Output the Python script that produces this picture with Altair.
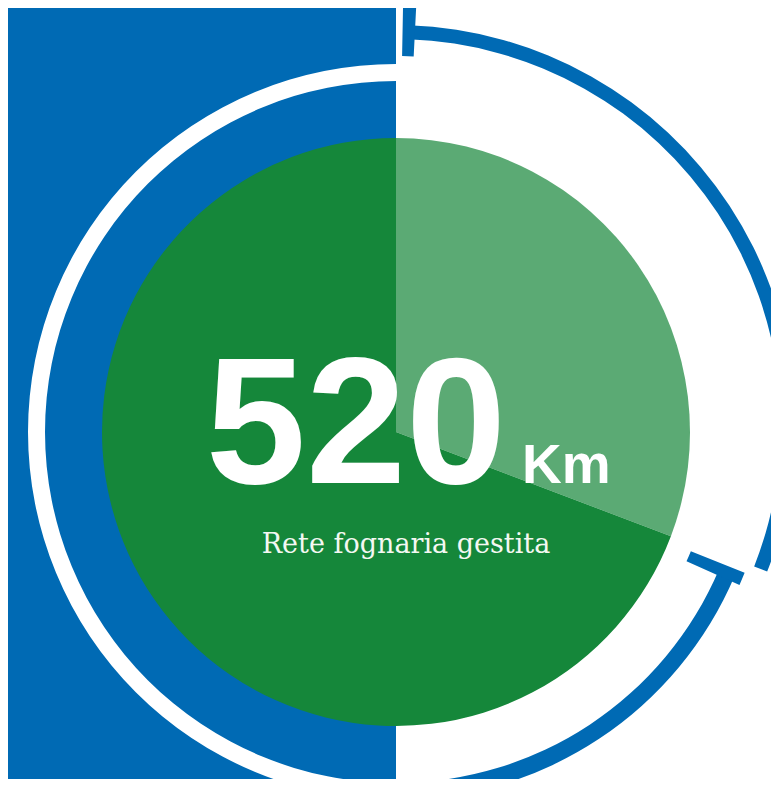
import altair as alt
import pandas as pd

# ---- data ----
segments = ["Quota evidenziata", "Resto della rete"]
km_values = [160, 360]
headline = ["520"]
unit = ["Km"]
caption = ["Rete fognaria gestita"]

# decorative arc spans (degrees, clockwise from top)
ring_white_span = [180, 360]
ring_blue_span = [113, 180]
ring_cap_span = [112, 114]
outer_arc_span = [2, 111.5]
outer_cap_span = [1.1, 2.9]

BLUE = "#006AB4"
GREEN_DARK = "#15873A"
GREEN_LIGHT = "#5BAA74"

W, H = 763, 771
CX, CY = 388, 424      # centre of pie and ring
OCX, OCY = 387, 417    # centre of outer arc

deg_scale = alt.Scale(domain=[0, 360])


def arc_layer(span, r_in, r_out, color, cx, cy):
    df = pd.DataFrame({"t0": [span[0]], "t1": [span[1]]})
    return alt.Chart(df).mark_arc(radius=r_out, radius2=r_in, color=color).encode(
        theta=alt.Theta("t0:Q", scale=deg_scale),
        theta2="t1:Q",
        x=alt.value(cx),
        y=alt.value(cy),
    )


bg = alt.Chart(pd.DataFrame({"a": [0]})).mark_rect(color=BLUE).encode(
    x=alt.value(0), x2=alt.value(CX), y=alt.value(0), y2=alt.value(H)
)

ring_white = arc_layer(ring_white_span, 351, 368, "white", CX, CY)
ring_blue = arc_layer(ring_blue_span, 351, 368, BLUE, CX, CY)
ring_cap = arc_layer(ring_cap_span, 318, 376, BLUE, CX, CY)
outer_arc = arc_layer(outer_arc_span, 386, 400, BLUE, OCX, OCY)
outer_cap = arc_layer(outer_cap_span, 369, 421, BLUE, OCX, OCY)

# pie table built from the arrays
starts, ends, acc = [], [], 0
for v in km_values:
    starts.append(acc)
    acc += v
    ends.append(acc)
pie_df = pd.DataFrame({"segment": segments, "km": km_values, "start": starts, "end": ends})

pie = alt.Chart(pie_df).mark_arc(radius=294).encode(
    theta=alt.Theta("start:Q", scale=alt.Scale(domain=[0, sum(km_values)])),
    theta2="end:Q",
    color=alt.Color("segment:N", scale=alt.Scale(domain=segments, range=[GREEN_LIGHT, GREEN_DARK]), legend=None),
    x=alt.value(CX),
    y=alt.value(CY),
)

num = alt.Chart(pd.DataFrame({"t": headline})).mark_text(
    font="Liberation Sans, Arial, sans-serif", fontSize=180, fontWeight="bold",
    color="white", align="center", baseline="alphabetic",
).encode(text="t:N", x=alt.value(348), y=alt.value(475))

km = alt.Chart(pd.DataFrame({"t": unit})).mark_text(
    font="Liberation Sans, Arial, sans-serif", fontSize=55, fontWeight="bold",
    color="white", align="left", baseline="alphabetic",
).encode(text="t:N", x=alt.value(514), y=alt.value(475))

cap = alt.Chart(pd.DataFrame({"t": caption})).mark_text(
    font="DejaVu Serif", fontSize=27, color="#F4F8F2", align="center", baseline="alphabetic",
).encode(text="t:N", x=alt.value(398), y=alt.value(545))

chart = alt.layer(
    bg, ring_white, ring_blue, ring_cap, outer_arc, outer_cap, pie, num, km, cap
).resolve_scale(theta="independent").properties(
    width=W, height=H, padding=0, background="white",
    autosize=alt.AutoSizeParams(type="none"),
).configure_view(stroke=None)

chart.save("out.html", embed_options={"renderer": "svg", "actions": False})
